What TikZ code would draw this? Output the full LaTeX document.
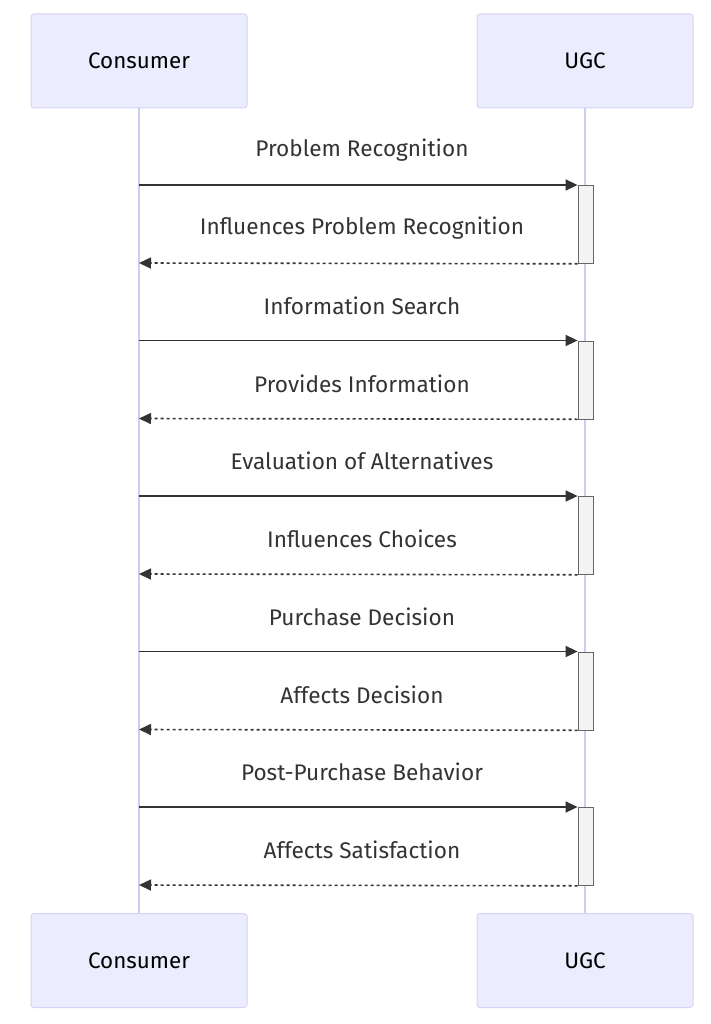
\documentclass[tikz,border=0pt]{standalone}
\usepackage{fontspec}
\setmainfont{Fira Sans}
\usetikzlibrary{arrows.meta}
\definecolor{actfill}{HTML}{ECECFF}
\definecolor{actdraw}{HTML}{D6D2F5}
\definecolor{lifec}{HTML}{CFCBF2}
\definecolor{txt}{HTML}{333333}
\definecolor{actbox}{HTML}{F4F4F4}
\definecolor{actline}{HTML}{666666}
\tikzset{
  actor/.style={draw=actdraw, fill=actfill, rounded corners=3pt, minimum width=216pt, minimum height=94pt, line width=1pt, font=\fontsize{22.4}{26}\selectfont, text=black, inner sep=0pt},
  life/.style={draw=lifec, line width=1.5pt},
  msg/.style={draw=txt, line width=1.6pt, -{Triangle[length=12pt,width=11pt]}},
  ret/.style={draw=txt, line width=1.6pt, dash pattern=on 3pt off 3pt, -{Triangle[length=12pt,width=11pt]}},
  lbl/.style={text=txt, font=\fontsize{22.6}{26}\selectfont, inner sep=0pt},
  activ/.style={draw=actline, fill=actbox, line width=0.8pt},
}
\begin{document}
\begin{tikzpicture}[x=1pt,y=-1pt]
\useasboundingbox (0,0) rectangle (711,1024);
\coordinate (lt) at (139,108);
\coordinate (lb) at (139,914);
\coordinate (rt) at (585,108);
\coordinate (rb) at (585,914);
\draw[life] (lt) -- (lb);
\draw[life] (rt) -- (rb);
\node[actor] (c1) at (139,61) {Consumer};
\node[actor] (u1) at (585,61) {UGC};
\node[actor] (c2) at (139,960.5) {Consumer};
\node[actor] (u2) at (585,960.5) {UGC};
\foreach \i/\a/\b in {0/Problem Recognition/Influences Problem Recognition,
                      1/Information Search/Provides Information,
                      2/Evaluation of Alternatives/Influences Choices,
                      3/Purchase Decision/Affects Decision,
                      4/Post-Purchase Behavior/Affects Satisfaction}{
  \pgfmathsetmacro{\ya}{185+155.5*\i}
  \pgfmathsetmacro{\yb}{\ya+78}
  \coordinate (s\i) at (139,\ya);
  \coordinate (q\i) at (139,\yb);
  \node[activ, minimum width=15pt, minimum height=78pt, anchor=north, inner sep=0pt] (act\i) at (585.5,\ya) {};
  \draw[msg] (s\i) -- (act\i.north west);
  \draw[ret] (act\i.south west) -- (q\i);
  \node[lbl] (la\i) at (362,\ya-35) {\a};
  \node[lbl] (lb\i) at (362,\yb-35) {\b};
}
\end{tikzpicture}
\end{document}
